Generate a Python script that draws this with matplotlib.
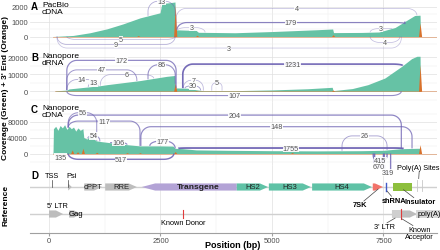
import numpy as np
import matplotlib
matplotlib.use("Agg")
import matplotlib.pyplot as plt

plt.rcParams['font.family'] = ['Liberation Sans', 'DejaVu Sans']

# ---------------- data ----------------
# Panel A: PacBio cDNA
pacbio_pos = [0, 90, 540, 920, 1300, 1660, 2040, 2490, 2530, 2700, 2825, 2835, 3300, 3350,
              4170, 5000, 6000, 6360, 6380, 7000, 7400, 7760, 8050, 8200, 8320, 8330]
pacbio_cov = [0, 0, 70, 250, 510, 840, 1240, 1580, 2200, 2250, 2300, 450, 400, 280,
              250, 330, 450, 500, 260, 270, 300, 600, 1130, 1400, 1420, 0]
pacbio_end_pos = [2000, 2830, 3320, 6370, 8320]
pacbio_end_val = [60, 2150, 80, 120, 900]
pacbio_junc_start = [2220, 2850, 2870, 2890, 7200, 180, 400, 180, 7200]
pacbio_junc_end = [2830, 8250, 7980, 3500, 7690, 2830, 2830, 7900, 7870]
pacbio_junc_count = [13, 4, 179, 3, 3, 9, 5, 3, 4]
pacbio_junc_top = [2350, 1870, 930, 600, 530, -530, -200, -770, -400]

# Panel B: Nanopore dRNA
drna_pos = [0, 135, 150, 400, 450, 1150, 1300, 2040, 2640, 2820, 2835, 3100, 3300, 3450,
            4200, 5000, 5800, 6350, 6370, 6800, 7150, 7530, 7910, 8130, 8250, 8320, 8330]
drna_cov = [0, 0, 300, 700, 1400, 3300, 3900, 6300, 8800, 9300, 2000, 1800, 900, 400,
            400, 800, 1500, 2350, 400, 1600, 3900, 7800, 14700, 19200, 20600, 20600, 0]
drna_end_pos = [2830, 3300, 6370, 8320]
drna_end_val = [4900, 300, 800, 15700]
drna_junc_start = [400, 400, 400, 880, 1150, 2220, 3010, 3050, 3650, 3000, 400]
drna_junc_end = [2850, 1970, 1080, 1100, 2350, 2830, 3460, 3400, 3880, 7930, 7900]
drna_junc_count = [172, 47, 14, 13, 6, 86, 7, 30, 5, 1231, 107]
drna_junc_top = [18200, 12600, 6900, 4900, 9800, 15600, 6500, 3200, 5000, 16000, -2500]

# Panel C: Nanopore cDNA
cdna_pos = [0, 90, 100, 150, 200, 250, 300, 350, 400, 450, 500, 550, 600, 650, 700, 760,
            780, 850, 900, 1000, 1050, 1150, 1300, 1500, 1750, 2040, 2500, 2780, 2830, 3000,
            3300, 4000, 5000, 6000, 7000, 7500, 7900, 8250, 8320, 8330]
cdna_cov = [0, 0, 62000, 68000, 58000, 70000, 64000, 72000, 60000, 68000, 62000, 66000,
            56000, 64000, 58000, 62000, 40000, 36000, 42000, 38000, 32000, 30000, 28000,
            25000, 22000, 19000, 19000, 18500, 13000, 12000, 9000, 8000, 7000, 6500, 7000,
            8000, 12000, 13000, 13000, 0]
cdna_end_pos = [520, 640, 760, 1070, 1750, 2040, 2830, 5450, 8320]
cdna_end_val = [9000, 4500, 13000, 3000, 2000, 2000, 5000, 2500, 22000]
cdna_junc_start = [430, 430, 430, 2060, 870, 1370, 2260, 2900, 6570, 200, 430, 7270, 7300, 7520]
cdna_junc_end = [1070, 7900, 2040, 8140, 1140, 1750, 2830, 7950, 7580, 330, 2800, 7580, 7500, 7660]
cdna_junc_count = [56, 204, 117, 148, 54, 106, 177, 1755, 26, 135, 517, 415, 670, 319]
cdna_junc_top = [102000, 96000, 81000, 67000, 44000, 27500, 31000, 13700, 44000,
                 -8800, -14500, -18750, -33750, -47500]

# Panel D: reference annotation
top_feat_name = ['Psi', 'cPPT', 'RRE', 'Transgene', 'HS2', 'HS3', 'HS4', '7SK', 'Insulator']
top_feat_start = [430, 790, 1260, 2080, 4210, 4930, 5900, 7260, 7710]
top_feat_end = [510, 1190, 1970, 4210, 4910, 5870, 7240, 7490, 8140]
top_feat_strand = [1, 1, 1, -1, 1, 1, 1, 1, 0]
bot_feat_name = ["5' LTR", 'Gag', "3' LTR"]
bot_feat_start = [0, 450, 7690]
bot_feat_end = [315, 720, 8250]
tss_pos = 70
psi_pos = 430
shrna_pos = 7560
polya_sites = [8250, 8360]
known_donor = 3000
known_acceptor = 7890

x_ticks = [0, 2500, 5000, 7500]

# ---------------- style ----------------
W, H = 440, 251
LEFT, RIGHT = 30, 437
X0, X1 = -426, 8700
GREEN = '#66C2A5'
ORANGE = '#D9712B'
ARC = '#6F64B4'
GRAY_TXT = '#4D4D4D'
feat_color = {'Psi': '#BDBDBD', 'cPPT': '#BDBDBD', 'RRE': '#BDBDBD', 'Transgene': '#B3A3D6',
              'HS2': '#5FC2A6', 'HS3': '#5FC2A6', 'HS4': '#5FC2A6', '7SK': '#F2736A',
              'Insulator': '#8DBF3D'}

fig = plt.figure(figsize=(W / 100, H / 100), dpi=100)


def fx(px):
    return px / W


def fy(py):
    return 1 - py / H


def add_panel(top_px, bot_px):
    ax = fig.add_axes([fx(LEFT), fy(bot_px), (RIGHT - LEFT) / W, (bot_px - top_px) / H])
    ax.set_xlim(X0, X1)
    ax.set_xticks(x_ticks)
    ax.set_xticks([1250, 3750, 6250], minor=True)
    for s in ax.spines.values():
        s.set_visible(False)
    ax.grid(True, which='major', color='#E0E0E0', lw=0.5)
    ax.grid(True, which='minor', color='#EEEEEE', lw=0.35)
    ax.set_axisbelow(True)
    ax.tick_params(which='both', length=0, labelsize=5.5, colors=GRAY_TXT, pad=1.5)
    return ax


def draw_arc(ax, x0, x1, y0, y1, top, n, sx, sy):
    s = 1 if top > 0 else -1
    frac = np.log10(n) / np.log10(2000)
    alpha = 0.3 + 0.7 * frac
    lw = 0.5 + 0.8 * frac ** 2
    r = min(10, (x1 - x0) * sx / 2.5)
    rx = r / sx
    ryl = min(r / sy, abs(top - y0))
    ryr = min(r / sy, abs(top - y1))
    t = np.linspace(0, np.pi / 2, 12)
    xs = [x0]
    ys = [y0]
    cxl, cyl = x0 + rx, top - s * ryl
    xs += list(cxl - rx * np.cos(t))
    ys += list(cyl + s * ryl * np.sin(t))
    cxr, cyr = x1 - rx, top - s * ryr
    xs += list(cxr + rx * np.sin(t))
    ys += list(cyr + s * ryr * np.cos(t))
    xs.append(x1)
    ys.append(y1)
    ax.plot(xs, ys, color=ARC, alpha=alpha, lw=lw, clip_on=False, solid_capstyle='butt')
    ax.text((x0 + x1) / 2, top, str(n), fontsize=5.2, color='#555555', ha='center',
            va='center', clip_on=False,
            bbox=dict(fc='white', ec='none', pad=0.2, alpha=0.9))


def coverage_panel(top_px, bot_px, zero_px, ppu, pos, cov, end_pos, end_val,
                   js, je, jc, jt, ticks, minor, letter, title):
    ax = add_panel(top_px, bot_px)
    ax.set_ylim((zero_px - bot_px) / ppu, (zero_px - top_px) / ppu)
    ax.set_yticks(ticks)
    ax.set_yticks(minor, minor=True)
    ax.set_yticklabels([str(t) for t in ticks])
    ax.tick_params(axis='x', labelbottom=False)
    ax.fill_between(pos, cov, 0, color=GREEN, lw=0)
    ax.plot([pos[1], X1], [0, 0], color=ORANGE, lw=0.6, alpha=0.5)
    for p, v in zip(end_pos, end_val):
        ax.fill_between([p - 35, p, p + 35], [0, v, 0], 0, color=ORANGE, lw=0)
    sx = (RIGHT - LEFT) / (X1 - X0)
    sy = ppu
    for a, b, n, t in zip(js, je, jc, jt):
        if t > 0:
            y0 = np.interp(a, pos, cov)
            y1 = np.interp(b, pos, cov)
        else:
            y0 = y1 = 0
        draw_arc(ax, a, b, y0, y1, t, n, sx, sy)
    fig.text(fx(31), fy(top_px + 7 if letter != 'A' else 7), letter, fontsize=7,
             fontweight='bold', ha='left', va='center')
    fig.text(fx(42), fy(top_px + 9 if letter != 'A' else 9), title, fontsize=6,
             ha='left', va='center', linespacing=1.1)
    return ax


axA = coverage_panel(0, 51, 37.5, 0.015, pacbio_pos, pacbio_cov, pacbio_end_pos,
                     pacbio_end_val, pacbio_junc_start, pacbio_junc_end, pacbio_junc_count,
                     pacbio_junc_top, [0, 1000, 2000], [-500, 500, 1500], 'A', 'PacBio\ncDNA')
axB = coverage_panel(51, 103, 92.3, 0.0017, drna_pos, drna_cov, drna_end_pos, drna_end_val,
                     drna_junc_start, drna_junc_end, drna_junc_count, drna_junc_top,
                     [0, 10000, 20000], [-5000, 5000, 15000], 'B', 'Nanopore\ndRNA')
axC = coverage_panel(103, 166, 154.5, 0.0004, cdna_pos, cdna_cov, cdna_end_pos, cdna_end_val,
                     cdna_junc_start, cdna_junc_end, cdna_junc_count, cdna_junc_top,
                     [0, 40000, 80000], [-20000, 20000, 60000, 100000], 'C', 'Nanopore\ncDNA')
for ax in (axA, axB, axC):
    ax.set_zorder(2)
    ax.patch.set_visible(False)

# ---------------- panel D ----------------
axD = add_panel(166, 234)
axD.set_ylim(0, 1)
axD.set_yticks([])
axD.spines['bottom'].set_visible(True)
axD.spines['bottom'].set_color('#A0A0A0')
axD.spines['bottom'].set_linewidth(0.8)
axD.set_xticklabels([str(t) for t in x_ticks])
axD.tick_params(axis='x', which='major', length=2, color='#A0A0A0', pad=1)
axD.grid(False, axis='y')

y_top = (234 - 188) / 68
y_bot = (234 - 215) / 68
h = 0.105
axD.plot([X0, X1], [y_top, y_top], color='#D0D0D0', lw=1.0, zorder=1)
axD.plot([X0, X1], [y_bot, y_bot], color='#D0D0D0', lw=1.0, zorder=1)


def arrow(ax, s, e, y, strand, color, head=180):
    hl = min(head, e - s)
    if strand == 1:
        xs = [s, e - hl, e, e - hl, s]
        ys = [y - h / 2, y - h / 2, y, y + h / 2, y + h / 2]
    elif strand == -1:
        xs = [e, s + hl, s, s + hl, e]
        ys = [y - h / 2, y - h / 2, y, y + h / 2, y + h / 2]
    else:
        xs = [s, e, e, s]
        ys = [y - h / 2, y - h / 2, y + h / 2, y + h / 2]
    ax.fill(xs, ys, color=color, lw=0, zorder=3)


for name, s, e, st in zip(top_feat_name, top_feat_start, top_feat_end, top_feat_strand):
    arrow(axD, s, e, y_top, st, feat_color[name], head=300 if name == 'Transgene' else 180)
    if name in ('cPPT', 'RRE', 'HS2', 'HS3', 'HS4', 'Transgene'):
        axD.text((s + e) / 2 + (200 if name == 'Transgene' else 0), y_top, name,
                 fontsize=5.5 if name != 'Transgene' else 6, ha='center', va='center',
                 color='#222222', fontweight='bold' if name == 'Transgene' else 'normal',
                 zorder=4)

line_kw = dict(color='#444444', lw=0.5, zorder=4, clip_on=False)
lab_kw = dict(fontsize=5.3, ha='center', va='center', clip_on=False, zorder=5)
# TSS and Psi
axD.plot([tss_pos, tss_pos], [y_top, 0.78], **line_kw)
axD.text(tss_pos, 0.85, 'TSS', **lab_kw)
axD.plot([psi_pos, psi_pos], [y_top, 0.78], **line_kw)
axD.text(psi_pos + 80, 0.85, 'Psi', **lab_kw)
# 7SK / shRNA / Insulator
axD.plot([7380, 7060], [y_top - 0.03, 0.47], **line_kw)
axD.text(6980, 0.42, '7SK', fontweight='bold', **lab_kw)
axD.plot([shrna_pos, shrna_pos], [y_top - 0.06, y_top + 0.06], color='#4159C8', lw=1,
         zorder=4)
axD.plot([shrna_pos + 20, 7680], [y_top - 0.06, 0.54], **line_kw)
axD.text(7740, 0.48, 'shRNA', fontweight='bold', **lab_kw)
axD.plot([7950, 8180], [y_top - 0.04, 0.52], **line_kw)
axD.text(8330, 0.46, 'Insulator', fontweight='bold', **lab_kw)
# Poly(A) sites
for p in polya_sites:
    axD.plot([p, p], [y_top - 0.06, y_top + 0.1], color='#C8C8C8', lw=0.6, zorder=4)
axD.plot([8300, 8290], [0.9, 0.8], **line_kw)
axD.text(8270, 0.96, 'Poly(A) Sites', **lab_kw)

# bottom track
for name, s, e in zip(bot_feat_name, bot_feat_start, bot_feat_end):
    arrow(axD, s, e, y_bot, 1, '#BDBDBD', head=160)
axD.fill([7690, 7910, 7910, 7690], [y_bot - h / 2, y_bot - h / 2, y_bot + h / 2, y_bot + h / 2],
         color='#CFCFCF', lw=0, zorder=3)
axD.text(180, 0.40, "5' LTR", **lab_kw)
axD.text(600, y_bot, 'Gag', fontsize=5.5, ha='center', va='center', zorder=5)
axD.plot([known_donor, known_donor], [y_bot - 0.06, y_bot + 0.06], color='#E03C3C', lw=0.8,
         zorder=4)
axD.text(known_donor, 0.16, 'Known Donor', **lab_kw)
axD.plot([known_acceptor, known_acceptor], [y_bot - 0.07, y_bot + 0.07], color='#E03C3C',
         lw=0.8, zorder=4)
axD.plot([7760, 7580], [y_bot - 0.06, 0.15], **line_kw)
axD.text(7530, 0.1, "3' LTR", **lab_kw)
axD.plot([known_acceptor + 20, 8160], [y_bot - 0.07, 0.11], **line_kw)
axD.text(8300, 0.0, 'Known\nAcceptor', linespacing=1.0, **lab_kw)
axD.text(8520, y_bot, 'poly(A)', fontsize=5.3, ha='center', va='center', zorder=5,
         bbox=dict(fc='#D8D8D8', ec='none', pad=0.6))

fig.text(fx(31), fy(176), 'D', fontsize=7, fontweight='bold', ha='left', va='center')
fig.text(fx(233), fy(245.5), 'Position (bp)', fontsize=6.5, fontweight='bold',
         ha='center', va='center')
fig.text(fx(5.5), fy(88), "Coverage (Green) + 3' End (Orange)", fontsize=6,
         fontweight='bold', rotation=90, ha='center', va='center')
fig.text(fx(5.5), fy(205), 'Reference', fontsize=6, fontweight='bold', rotation=90,
         ha='center', va='center')

fig.savefig('out.png', dpi=100)
